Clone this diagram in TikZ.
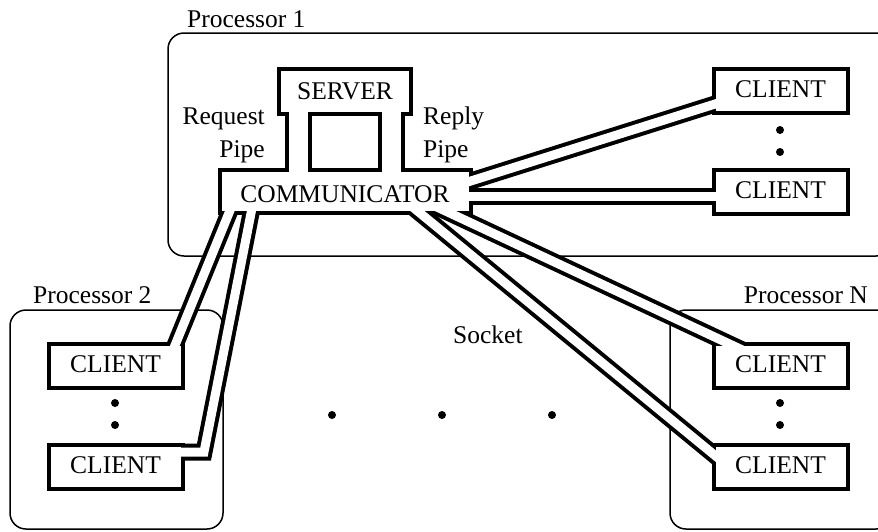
\documentclass[tikz,border=0pt]{standalone}
\usepackage{fontspec}
\setmainfont{Liberation Serif}
\tikzset{
  procbox/.style={draw=black, line width=1.5pt, rounded corners=16pt},
  wall/.style={draw=black, line width=8pt, inner sep=0pt, outer sep=0pt},
  clibox/.style={wall, minimum width=130pt, minimum height=40pt},
  pipeout/.style={draw=black, line width=17pt, line join=miter},
  pipein/.style={draw=white, line width=9pt, line join=miter},
  lbl/.style={font=\fontsize{25.5}{30}\selectfont, inner sep=0pt},
  dot/.style={circle, fill=black, inner sep=0pt, minimum size=8pt},
}
\begin{document}
\begin{tikzpicture}[x=1pt, y=-1pt]
  \useasboundingbox (0,0) rectangle (878,531);
  \clip (0,0) rectangle (878,531);

  % --- PROCESSORS ---
  \draw[procbox] (168,33) rectangle (892,256);
  \draw[procbox] (10,310) rectangle (223,529);
  \draw[procbox] (670,310) rectangle (892,529);
  \node[lbl, anchor=base west] (proc1) at (187,27) {Processor 1};
  \node[lbl, anchor=base west] (proc2) at (33,303) {Processor 2};
  \node[lbl, anchor=base east] (procN) at (868,303) {Processor N};

  % --- WALLS (black pass) ---
  \node[wall, minimum width=128pt, minimum height=41pt] (srv) at (345,91.5) {};
  \node[wall, minimum width=19pt, minimum height=64pt] (lpipe) at (298.5,142) {};
  \node[wall, minimum width=19pt, minimum height=64pt] (rpipe) at (391.5,142) {};
  \node[wall, minimum width=247pt, minimum height=39pt] (comm) at (345.5,191.5) {};
  \foreach \n/\x/\y in {r1/780.5/90.5, r2/780.5/192, n1/780.5/366,
                        n2/780.5/467, p1/115.5/366, p2/115.5/467}
    \node[clibox] (\n) at (\x,\y) {};

  % socket ends
  \coordinate (c1a) at (455,186);   \coordinate (c1b) at (730,99.3);
  \coordinate (c2a) at (455,196);   \coordinate (c2b) at (730,196);
  \coordinate (c3a) at (422,200);   \coordinate (c3b) at (768,362);
  \coordinate (c4a) at (398,195);   \coordinate (c4b) at (729,467);
  \coordinate (c5a) at (236.3,195); \coordinate (c5b) at (168.2,362);
  \coordinate (c6a) at (254,198);   \coordinate (c6b) at (204,452);
  \coordinate (c6c) at (170,452);

  \foreach \a/\b in {c1a/c1b, c2a/c2b, c3a/c3b, c4a/c4b, c5a/c5b}
    \draw[pipeout] (\a) -- (\b);
  \draw[pipeout] (c6a) -- (c6b) -- (c6c);

  % --- INSIDES (white pass) ---
  \foreach \b in {srv, lpipe, rpipe, comm, r1, r2, n1, n2, p1, p2}
    \fill[white] (\b.south west) rectangle (\b.north east);
  \foreach \a/\b in {c1a/c1b, c2a/c2b, c3a/c3b, c4a/c4b, c5a/c5b}
    \draw[pipein] (\a) -- (\b);
  \draw[pipein] (c6a) -- (c6b) -- (c6c);

  % --- TEXT ---
  \node[lbl] (srv-txt) at (srv) {SERVER};
  \node[lbl] (comm-txt) at (345,194) {COMMUNICATOR};
  \foreach \n in {r1, r2, n1, n2, p1, p2}
    \node[lbl] (\n-txt) at ([yshift=1.5pt]\n.center) {CLIENT};
  \node[lbl, anchor=base east] (req1) at (265,124) {Request};
  \node[lbl, anchor=base east] (req2) at (265,157) {Pipe};
  \node[lbl, anchor=base west] (rep1) at (423,124) {Reply};
  \node[lbl, anchor=base west] (rep2) at (423,157) {Pipe};
  \node[lbl, anchor=base west] (sock) at (453,343) {Socket};

  % --- DOTS ---
  \foreach \x/\y [count=\i] in {780/130, 780/152, 780/403, 780/425,
                                115/403, 115/425, 332/415, 442/415, 552/415}
    \node[dot] (dot\i) at (\x,\y) {};
\end{tikzpicture}
\end{document}
